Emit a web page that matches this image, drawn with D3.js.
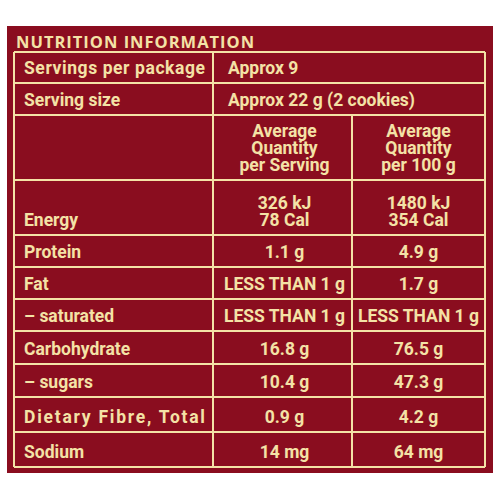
<!DOCTYPE html><html><head><script src="https://cdn.jsdelivr.net/npm/d3@7"></script>
<style>body{margin:0;background:#fff}</style></head><body><script>
const labels=["Servings per package","Serving size","","Energy","Protein","Fat","– saturated","Carbohydrate","– sugars","Dietary Fibre, Total","Sodium"];
const perServing=[["Approx 9"],["Approx 22 g (2 cookies)"],["Average","Quantity","per Serving"],["326 kJ","78 Cal"],["1.1 g"],["LESS THAN 1 g"],["LESS THAN 1 g"],["16.8 g"],["10.4 g"],["0.9 g"],["14 mg"]];
const per100=[[],[],["Average","Quantity","per 100 g"],["1480 kJ","354 Cal"],["4.9 g"],["1.7 g"],["LESS THAN 1 g"],["76.5 g"],["47.3 g"],["4.2 g"],["64 mg"]];
const rowEdges=[52,83,115,180,235,267,299,331,364,397,432,467];
const colEdges=[14,213,352,485];
const cream="#f4e2a6";
const svg=d3.select("body").append("svg").attr("width",500).attr("height",500);
svg.append("rect").attr("x",7).attr("y",26).attr("width",486).attr("height",447).attr("fill","#8a0d1f");
svg.append("text").attr("x",16).attr("y",48).attr("fill",cream).attr("font-family","Open Sans").attr("font-weight",700).attr("font-size",16.5).attr("letter-spacing",1).text("NUTRITION INFORMATION");
const g=svg.append("g").attr("stroke",cream).attr("stroke-width",2);
rowEdges.forEach(y=>g.append("line").attr("x1",colEdges[0]).attr("x2",colEdges[3]).attr("y1",y).attr("y2",y));
colEdges.forEach((x,i)=>g.append("line").attr("x1",x).attr("x2",x).attr("y1",i==2?rowEdges[2]:rowEdges[0]).attr("y2",rowEdges[11]));
const t=svg.append("g").attr("fill",cream).attr("font-family","Roboto").attr("font-weight",700).attr("font-size",17.5);
labels.forEach((l,i)=>{const y=rowEdges[i+1]-9;t.append("text").attr("x",24).attr("y",y).attr("textLength",l.length>15?181:null).text(l);});
function cell(lines,i,x,anchor){
  const bottom=rowEdges[i+1]-9;
  lines.forEach((s,k)=>t.append("text").attr("x",x).attr("y",bottom-(lines.length-1-k)*17).attr("text-anchor",anchor).text(s));
}
perServing.forEach((l,i)=>{ if(i<2) cell(l,i,228,"start"); else cell(l,i,(213+352)/2+2,"middle");});
per100.forEach((l,i)=>{ if(i>=2) cell(l,i,(352+485)/2,"middle");});
</script></body></html>
